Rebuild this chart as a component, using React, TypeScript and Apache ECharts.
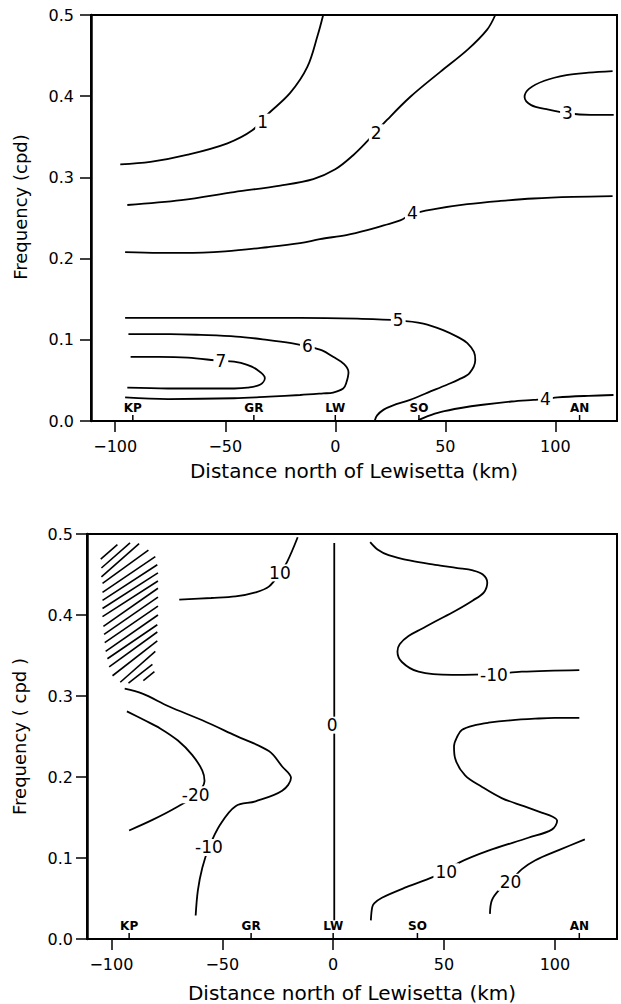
import React, { useEffect, useRef } from "react";
import * as echarts from "echarts";

// ---------- data (km north of Lewisetta, frequency in cpd) ----------
const xTicks = [-100, -50, 0, 50, 100];
const stationNames = ["KP", "GR", "LW", "SO", "AN"];
const stationKm = [-92, -37, 0, 38, 111];

// Top panel contours
const top1 = [[-97.7, 0.316], [-84, 0.319], [-67, 0.328], [-49, 0.342], [-37.7, 0.358], [-31, 0.377], [-20.5, 0.404], [-12.7, 0.436], [-8, 0.475], [-5.5, 0.5]];
const top2 = [[-94.5, 0.266], [-70, 0.272], [-46, 0.282], [-25, 0.29], [-10, 0.298], [0, 0.31], [8, 0.327], [14, 0.343], [23.6, 0.371], [34, 0.399], [47.7, 0.43], [60, 0.457], [69, 0.482], [72.7, 0.5]];
const top3 = [[126, 0.431], [115, 0.429], [105, 0.426], [95, 0.419], [88, 0.409], [86, 0.399], [89, 0.389], [96, 0.384], [105.5, 0.379], [116, 0.377], [126.5, 0.377]];
const top4a = [[-95.5, 0.208], [-80, 0.207], [-69, 0.207], [-50, 0.209], [-31, 0.214], [-16, 0.219], [-7, 0.224], [5, 0.229], [14.5, 0.235], [22, 0.241], [29.5, 0.247], [35, 0.255], [45, 0.261], [60, 0.267], [75, 0.271], [90, 0.274], [108, 0.276], [126, 0.277]];
const top5 = [[-95.5, 0.127], [-60, 0.127], [-16, 0.127], [10, 0.126], [28.6, 0.124], [40, 0.12], [49, 0.112], [56, 0.103], [60, 0.096], [63, 0.085], [63.6, 0.075], [61, 0.059], [56, 0.051], [51, 0.045], [42, 0.035], [34, 0.026], [26, 0.019], [22, 0.014], [19, 0.007], [18, 0.001]];
const top6 = [[-94, 0.107], [-75, 0.107], [-61, 0.106], [-45, 0.104], [-31, 0.1], [-20, 0.096], [-12.7, 0.092], [-6, 0.087], [-1, 0.079], [4, 0.07], [6, 0.06], [5, 0.047], [3.6, 0.04], [-1, 0.035], [-5.5, 0.034], [-16, 0.032], [-30, 0.03], [-46, 0.028], [-76, 0.027], [-95.5, 0.029]];
const top7 = [[-93, 0.079], [-80, 0.079], [-67, 0.078], [-52, 0.074], [-46, 0.073], [-40, 0.069], [-35.5, 0.063], [-32, 0.053], [-34, 0.045], [-40, 0.041], [-46, 0.04], [-60, 0.04], [-76, 0.04], [-94.5, 0.041]];
const top4b = [[37.7, 0.001], [42, 0.006], [47.7, 0.011], [57, 0.016], [67, 0.02], [80, 0.024], [90, 0.026], [95.5, 0.027], [101, 0.029], [115, 0.031], [126.4, 0.032]];
const topLabelText = ["1", "2", "3", "4", "5", "6", "7", "4"];
const topLabelPos = [[-33, 0.368], [18.6, 0.355], [105.5, 0.379], [35, 0.256], [28.6, 0.124], [-12.7, 0.092], [-52, 0.074], [95.5, 0.027]];

// Bottom panel contours
const botP10a = [[-69.4, 0.419], [-55, 0.421], [-44, 0.423], [-35, 0.428], [-29, 0.435], [-24, 0.452], [-20.7, 0.466], [-16, 0.496]];
const bot0 = [[0.5, 0.489], [0.5, 0.023]];
const botM10r = [[16.7, 0.49], [20, 0.481], [25, 0.474], [35, 0.467], [46, 0.462], [56, 0.458], [63, 0.455], [67.5, 0.45], [69.5, 0.44], [68, 0.428], [63, 0.418], [55, 0.405], [46, 0.392], [40, 0.383], [34, 0.374], [30, 0.364], [29, 0.355], [31, 0.342], [38.5, 0.33], [53.6, 0.326], [72.5, 0.327], [85, 0.33], [111, 0.332]];
const botP10r = [[111, 0.273], [100, 0.273], [91, 0.272], [80, 0.27], [70, 0.267], [64, 0.264], [58, 0.258], [56, 0.25], [54.5, 0.238], [55, 0.223], [59.5, 0.202], [67, 0.188], [76, 0.174], [86, 0.164], [94, 0.156], [99, 0.151], [101, 0.146], [98.6, 0.135], [88, 0.125], [70, 0.109], [56.6, 0.094], [51, 0.084], [44.6, 0.076], [33, 0.064], [22, 0.051], [18.5, 0.044], [17.6, 0.039], [17, 0.023]];
const botP20 = [[113.5, 0.123], [102, 0.11], [91, 0.097], [85, 0.086], [80, 0.072], [75, 0.061], [71.6, 0.048], [70.7, 0.031]];
const botM10l = [[-94, 0.309], [-86, 0.303], [-74, 0.287], [-59, 0.27], [-44, 0.251], [-29, 0.232], [-23, 0.213], [-19, 0.199], [-23, 0.183], [-35, 0.17], [-44, 0.164], [-51, 0.141], [-56, 0.113], [-59, 0.088], [-61, 0.06], [-62, 0.029]];
const botM20 = [[-93, 0.281], [-85, 0.27], [-78, 0.26], [-70, 0.245], [-63.5, 0.227], [-59, 0.208], [-58, 0.195], [-62, 0.178], [-71, 0.162], [-81.5, 0.147], [-92, 0.134]];
const botLabelText = ["10", "0", "-10", "10", "20", "-20", "-10"];
const botLabelPos = [[-24, 0.452], [-0.5, 0.264], [72.5, 0.326], [51, 0.083], [80, 0.07], [-62, 0.178], [-56, 0.113]];

// Hatched area (segments x1, y1, x2, y2)
const hatch = [
  [-104.8, 0.469, -97.3, 0.487], [-104.5, 0.458, -91.6, 0.489], [-104.5, 0.447, -87.5, 0.488],
  [-104, 0.439, -83.3, 0.48], [-104, 0.428, -80.2, 0.472], [-104, 0.418, -79.3, 0.462],
  [-104, 0.408, -79, 0.452], [-104, 0.398, -79, 0.442], [-103.6, 0.386, -79, 0.433],
  [-103.3, 0.376, -79, 0.422], [-103, 0.366, -79, 0.411], [-102.6, 0.355, -79, 0.4],
  [-101.8, 0.346, -79.3, 0.388], [-101, 0.336, -79.3, 0.379], [-99.5, 0.325, -79.3, 0.368],
  [-96, 0.317, -80.2, 0.355], [-92.3, 0.316, -81.5, 0.339], [-85.6, 0.319, -80.6, 0.33],
];

const FONT = "DejaVu Sans";

function contour(data: number[][], idx: number) {
  return {
    type: "line",
    xAxisIndex: idx,
    yAxisIndex: idx,
    data,
    smooth: 0.35,
    symbol: "none",
    lineStyle: { color: "#000", width: 1.8 },
    z: 2,
  };
}

function labels(pos: number[][], text: string[], idx: number) {
  return {
    type: "custom",
    xAxisIndex: idx,
    yAxisIndex: idx,
    data: pos,
    z: 5,
    renderItem: (params: any, api: any) => {
      const p = api.coord([api.value(0), api.value(1)]);
      return {
        type: "text",
        x: p[0],
        y: p[1],
        style: {
          text: text[params.dataIndex],
          fontFamily: FONT,
          fontSize: 17,
          fill: "#000",
          align: "center",
          verticalAlign: "middle",
          backgroundColor: "#fff",
          padding: [0, 2],
        },
      };
    },
  };
}

function stations(idx: number) {
  return {
    type: "custom",
    xAxisIndex: idx,
    yAxisIndex: idx,
    data: stationKm.map((k) => [k, 0]),
    z: 6,
    clip: false,
    renderItem: (params: any, api: any) => {
      const p = api.coord([api.value(0), 0]);
      return {
        type: "group",
        children: [
          { type: "line", shape: { x1: p[0], y1: p[1], x2: p[0], y2: p[1] - 6 }, style: { stroke: "#000", lineWidth: 1.5 } },
          {
            type: "text",
            x: p[0],
            y: p[1] - 7,
            style: { text: stationNames[params.dataIndex], fontFamily: FONT, fontSize: 12, fontWeight: "bold", fill: "#000", align: "center", verticalAlign: "bottom" },
          },
        ],
      };
    },
  };
}

function hatchSeries(idx: number) {
  return {
    type: "custom",
    xAxisIndex: idx,
    yAxisIndex: idx,
    data: hatch,
    encode: { x: [0, 2], y: [1, 3] },
    z: 3,
    renderItem: (params: any, api: any) => {
      const a = api.coord([api.value(0), api.value(1)]);
      const b = api.coord([api.value(2), api.value(3)]);
      return { type: "line", shape: { x1: a[0], y1: a[1], x2: b[0], y2: b[1] }, style: { stroke: "#000", lineWidth: 1.6 } };
    },
  };
}

function xAxis(idx: number, nameGap: number, name: string) {
  return {
    type: "value",
    gridIndex: idx,
    min: -111,
    max: 128,
    name,
    nameLocation: "middle",
    nameGap,
    nameTextStyle: { fontFamily: FONT, fontSize: 20, color: "#000" },
    axisLine: { show: true, onZero: false, lineStyle: { color: "#000", width: 2 } },
    axisTick: { show: true, length: 11, customValues: xTicks, lineStyle: { color: "#000", width: 1.5 } },
    axisLabel: {
      customValues: xTicks,
      margin: 17,
      fontFamily: FONT,
      fontSize: 16,
      color: "#000",
      formatter: (v: number) => (v < 0 ? "\u2212" + Math.abs(v) : String(v)),
    },
    splitLine: { show: false },
  };
}

function yAxis(idx: number, nameGap: number, name: string, margin: number, namePad: number[]) {
  return {
    type: "value",
    gridIndex: idx,
    min: 0,
    max: 0.5,
    interval: 0.1,
    name,
    nameLocation: "middle",
    nameGap,
    nameTextStyle: { fontFamily: FONT, fontSize: 18, color: "#000", padding: namePad },
    axisLine: { show: true, onZero: false, lineStyle: { color: "#000", width: 2.5 } },
    axisTick: { show: true, length: 11, lineStyle: { color: "#000", width: 1.5 } },
    axisLabel: { margin, fontFamily: FONT, fontSize: 16, color: "#000", formatter: (v: number) => v.toFixed(1) },
    splitLine: { show: false },
  };
}

export default function App() {
  const ref = useRef<HTMLDivElement>(null);
  useEffect(() => {
    if (!ref.current) return;
    const chart = echarts.init(ref.current, null, { renderer: "svg" });
    chart.setOption({
      animation: false,
      backgroundColor: "#fff",
      grid: [
        { left: 91, top: 15, width: 526, height: 406, show: true, borderColor: "#000", borderWidth: 2, backgroundColor: "transparent" },
        { left: 87, top: 534, width: 530, height: 408, show: true, borderColor: "#000", borderWidth: 2, backgroundColor: "transparent" },
      ],
      xAxis: [
        xAxis(0, 40, "Distance north of Lewisetta (km)"),
        xAxis(1, 44, "Distance north of Lewisetta (km)"),
      ],
      yAxis: [
        yAxis(0, 62, "Frequency (cpd)", 17, [0, 0, 0, 22]),
        yAxis(1, 59, "Frequency ( cpd )", 14, [0, 0, 0, 0]),
      ],
      series: [
        contour(top1, 0), contour(top2, 0), contour(top3, 0), contour(top4a, 0),
        contour(top5, 0), contour(top6, 0), contour(top7, 0), contour(top4b, 0),
        labels(topLabelPos, topLabelText, 0),
        stations(0),
        contour(botP10a, 1), contour(bot0, 1), contour(botM10r, 1), contour(botP10r, 1),
        contour(botP20, 1), contour(botM10l, 1), contour(botM20, 1),
        labels(botLabelPos, botLabelText, 1),
        hatchSeries(1),
        stations(1),
      ],
    });
    return () => chart.dispose();
  }, []);
  return <div ref={ref} style={{ position: "absolute", left: 0, top: 0, width: 621, height: 1004 }} />;
}
